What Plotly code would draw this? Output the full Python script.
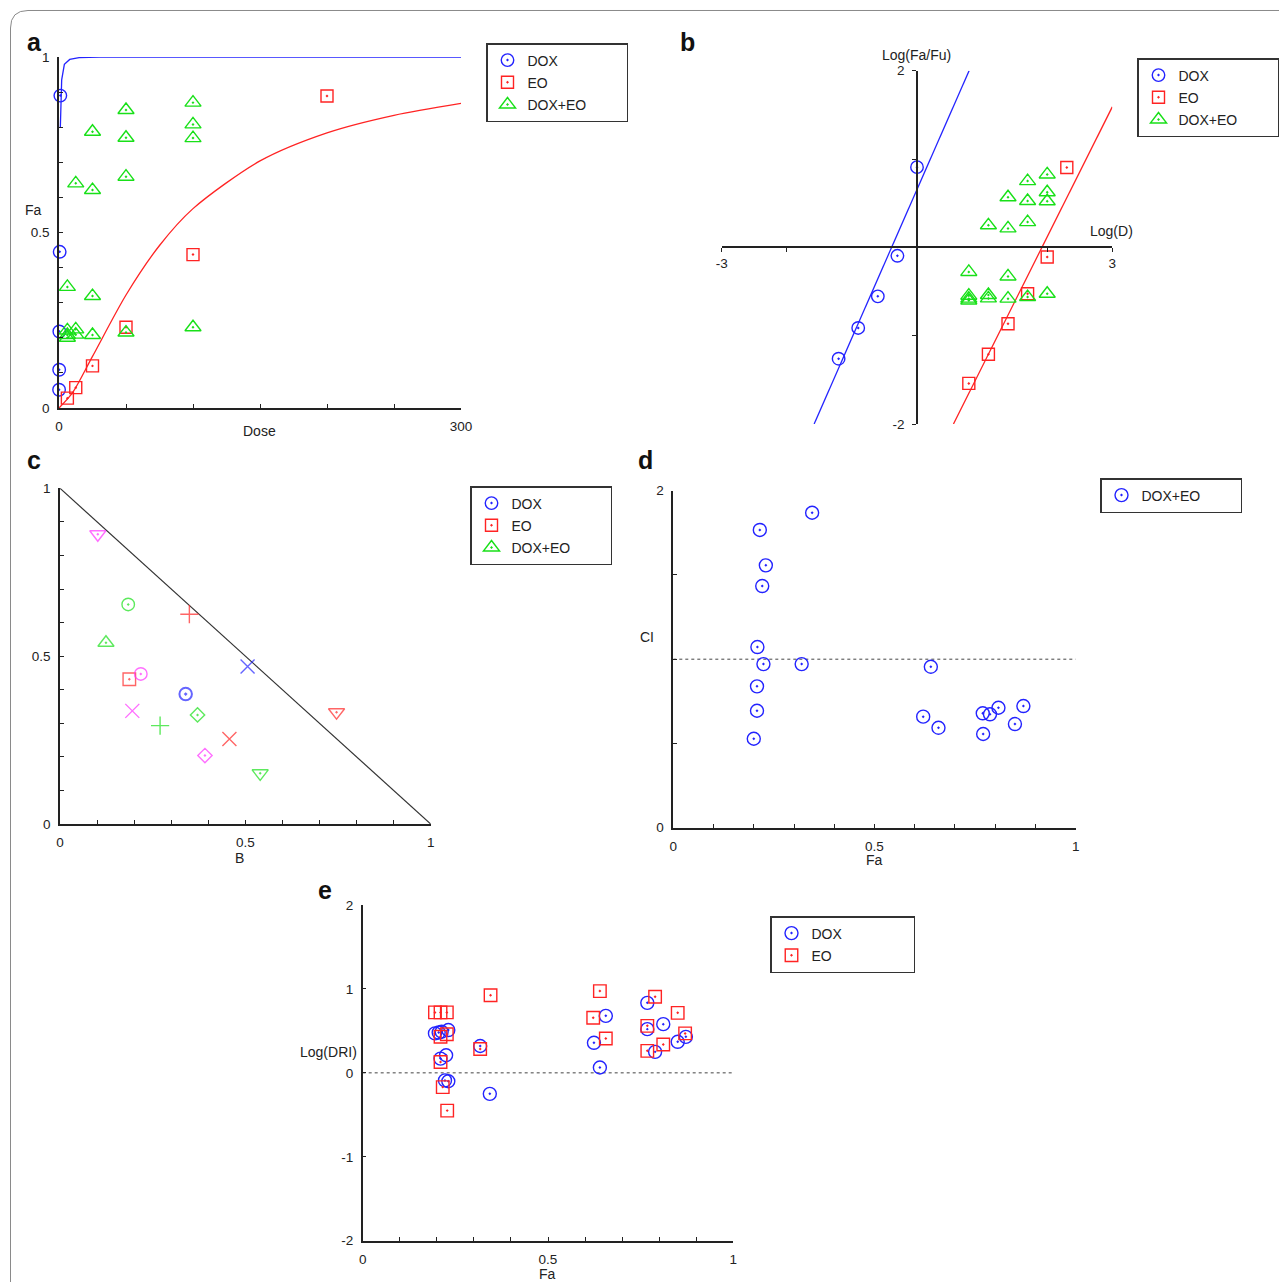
import math
import plotly.graph_objects as go

# page body has an 8 px margin; the figure is sized so that it fills the window exactly
OFF = 8
FW, FH = 1287 - OFF, 1282 - OFF
FONT = "Liberation Sans, Arial, sans-serif"

# ---------------- data ----------------
# Panel a / b : single drugs and combination (dose, fraction affected)
dox_dose = [0.0625, 0.125, 0.25, 0.5, 1.0]
dox_fa = [0.052, 0.109, 0.218, 0.445, 0.89]
eo_dose = [6.25, 12.5, 25, 50, 100, 200]
eo_fa = [0.028, 0.058, 0.12, 0.23, 0.437, 0.889]
combo_dose = [6.25, 6.25, 6.25, 6.25, 12.5, 12.5, 12.5, 25, 25, 25, 25,
              50, 50, 50, 50, 100, 100, 100, 100]
combo_fa = [0.345, 0.221, 0.208, 0.200, 0.224, 0.209, 0.640, 0.319, 0.208, 0.787, 0.621,
            0.215, 0.849, 0.770, 0.659, 0.230, 0.870, 0.808, 0.769]

# fitted dose-effect curves
dox_curve_dose = [1, 2, 4, 8, 15, 30, 300]
dox_curve_fa = [0.80, 0.935, 0.979, 0.993, 0.998, 0.9995, 1.0]
eo_curve_dose = [0, 10, 25, 50, 75, 100, 150, 200, 250, 300]
eo_curve_fa = [0, 0.043, 0.147, 0.322, 0.463, 0.568, 0.704, 0.784, 0.834, 0.868]

# median-effect lines
dox_line_logd = [-1.58, 0.80]
dox_line_logfa = [-2.0, 2.0]
eo_line_logd = [0.56, 3.0]
eo_line_logfa = [-2.0, 1.59]

# Panel c : normalized isobologram
c_b = [0.102, 0.184, 0.349, 0.124, 0.187, 0.218, 0.506, 0.339, 0.195, 0.371,
       0.270, 0.457, 0.391, 0.540, 0.746]
c_a = [0.863, 0.654, 0.625, 0.540, 0.431, 0.447, 0.469, 0.387, 0.337, 0.325,
       0.293, 0.253, 0.204, 0.151, 0.333]
c_iso_b = [0, 1]
c_iso_a = [1, 0]

# Panel d : Fa - CI
d_fa = [0.215, 0.345, 0.230, 0.221, 0.209, 0.224, 0.319, 0.208, 0.208, 0.200,
        0.640, 0.621, 0.659, 0.769, 0.787, 0.808, 0.870, 0.849, 0.770]
d_ci = [1.767, 1.869, 1.557, 1.434, 1.072, 0.971, 0.971, 0.839, 0.694, 0.528,
        0.955, 0.659, 0.593, 0.679, 0.673, 0.712, 0.722, 0.615, 0.556]

# Panel e : Fa - log(DRI)
e_dox_fa = [0.195, 0.205, 0.213, 0.231, 0.210, 0.225, 0.222, 0.231, 0.317, 0.343,
            0.768, 0.656, 0.811, 0.768, 0.624, 0.850, 0.872, 0.789, 0.640]
e_dox_logdri = [0.47, 0.48, 0.49, 0.51, 0.17, 0.21, -0.09, -0.10, 0.32, -0.25,
                0.834, 0.679, 0.580, 0.521, 0.358, 0.370, 0.429, 0.250, 0.064]
e_eo_fa = [0.195, 0.210, 0.227, 0.210, 0.227, 0.210, 0.216, 0.228, 0.317, 0.345,
           0.640, 0.789, 0.850, 0.622, 0.768, 0.656, 0.870, 0.811, 0.768]
e_eo_logdri = [0.72, 0.72, 0.72, 0.43, 0.46, 0.13, -0.17, -0.45, 0.285, 0.925,
               0.974, 0.907, 0.715, 0.656, 0.560, 0.410, 0.470, 0.338, 0.262]

# ---------------- styling ----------------
BLUE, RED, GREEN, MAG = "#2323ff", "#ff2323", "#18e018", "#ff30ff"
AX = "#222222"
log10 = math.log10


def px(p):
    return (p - OFF) / FW


def py(p):
    return 1 - (p - OFF) / FH


def axis(domain, rng, tickvals, ticktext, **kw):
    d = dict(domain=domain, range=rng, tickvals=tickvals, ticktext=ticktext,
             showline=True, linecolor=AX, linewidth=1.5, ticks="inside", ticklen=4,
             tickwidth=1.2, tickcolor=AX, showgrid=False, zeroline=False,
             tickfont=dict(size=13.5, color=AX, family=FONT), fixedrange=True,
             ticklabelstandoff=5, automargin=False)
    d.update(kw)
    return d


def mk(symbol, color, size=12.5):
    return dict(symbol=symbol, size=size, color=color, line=dict(color=color, width=1.4))


fig = go.Figure()
PAD = "\u00a0" * 9
TRI = 14

# ---------- panel a ----------
fig.add_trace(go.Scatter(x=dox_curve_dose, y=dox_curve_fa, mode="lines",
                         line=dict(color=BLUE, width=1.3), showlegend=False,
                         xaxis="x", yaxis="y", cliponaxis=False))
fig.add_trace(go.Scatter(x=eo_curve_dose, y=eo_curve_fa, mode="lines",
                         line=dict(color=RED, width=1.3, shape="spline", smoothing=0.8),
                         showlegend=False, xaxis="x", yaxis="y", cliponaxis=False))
fig.add_trace(go.Scatter(x=dox_dose, y=dox_fa, mode="markers", name="DOX",
                         marker=mk("circle-open-dot", BLUE), legend="legend",
                         legendgroup="a1", xaxis="x", yaxis="y", cliponaxis=False))
fig.add_trace(go.Scatter(x=eo_dose, y=eo_fa, mode="markers", name="EO",
                         marker=mk("square-open-dot", RED, 12), legend="legend",
                         legendgroup="a2", xaxis="x", yaxis="y", cliponaxis=False))
fig.add_trace(go.Scatter(x=combo_dose, y=combo_fa, mode="markers", name="DOX+EO" + PAD,
                         marker=mk("triangle-up-open-dot", GREEN, TRI), legend="legend",
                         legendgroup="a3", xaxis="x", yaxis="y", cliponaxis=False))

# ---------- panel b ----------
fig.add_trace(go.Scatter(x=dox_line_logd, y=dox_line_logfa, mode="lines",
                         line=dict(color=BLUE, width=1.3), showlegend=False,
                         xaxis="x2", yaxis="y2", cliponaxis=False))
fig.add_trace(go.Scatter(x=eo_line_logd, y=eo_line_logfa, mode="lines",
                         line=dict(color=RED, width=1.3), showlegend=False,
                         xaxis="x2", yaxis="y2", cliponaxis=False))
fig.add_trace(go.Scatter(x=[log10(d) for d in dox_dose],
                         y=[log10(f / (1 - f)) for f in dox_fa], mode="markers", name="DOX",
                         marker=mk("circle-open-dot", BLUE), legend="legend2",
                         legendgroup="b1", xaxis="x2", yaxis="y2", cliponaxis=False))
fig.add_trace(go.Scatter(x=[log10(d) for d in eo_dose],
                         y=[log10(f / (1 - f)) for f in eo_fa], mode="markers", name="EO",
                         marker=mk("square-open-dot", RED, 12), legend="legend2",
                         legendgroup="b2", xaxis="x2", yaxis="y2", cliponaxis=False))
fig.add_trace(go.Scatter(x=[log10(d) for d in combo_dose],
                         y=[log10(f / (1 - f)) for f in combo_fa], mode="markers",
                         name="DOX+EO" + PAD,
                         marker=mk("triangle-up-open-dot", GREEN, TRI), legend="legend2",
                         legendgroup="b3", xaxis="x2", yaxis="y2", cliponaxis=False))

# ---------- panel c ----------
c_symbols = ["triangle-down-open-dot", "circle-open-dot", "cross-thin-open",
             "triangle-up-open-dot", "square-open-dot", "circle-open-dot", "x-thin-open",
             "circle-open-dot", "x-thin-open", "diamond-open-dot", "cross-thin-open",
             "x-thin-open", "diamond-open-dot", "triangle-down-open-dot",
             "triangle-down-open-dot"]
c_colors = [MAG, GREEN, RED, GREEN, RED, MAG, BLUE, BLUE, MAG, GREEN, GREEN, RED, MAG,
            GREEN, RED]
c_sizes = [14, 12.5, 13, 14, 12.5, 12.5, 14, 12.5, 14, 11, 13, 14, 11, 14, 14]
c_widths = [1.4, 1.4, 1.4, 1.4, 1.4, 1.4, 1.4, 2.0, 1.4, 1.4, 1.4, 1.4, 1.4, 1.4, 1.4]
fig.add_trace(go.Scatter(x=c_iso_b, y=c_iso_a, mode="lines",
                         line=dict(color="#333333", width=1.2), showlegend=False,
                         xaxis="x3", yaxis="y3", cliponaxis=False))
fig.add_trace(go.Scatter(x=c_b, y=c_a, mode="markers", showlegend=False,
                         marker=dict(symbol=c_symbols, color=c_colors, size=c_sizes,
                                     line=dict(color=c_colors, width=c_widths)),
                         xaxis="x3", yaxis="y3", cliponaxis=False))
for nm, sym, col, g, sz in [("DOX", "circle-open-dot", BLUE, "c1", 12.5),
                            ("EO", "square-open-dot", RED, "c2", 12),
                            ("DOX+EO" + PAD, "triangle-up-open-dot", GREEN, "c3", TRI)]:
    fig.add_trace(go.Scatter(x=[None], y=[None], mode="markers", name=nm,
                             marker=mk(sym, col, sz), legend="legend3", legendgroup=g,
                             xaxis="x3", yaxis="y3"))

# ---------- panel d ----------
fig.add_trace(go.Scatter(x=d_fa, y=d_ci, mode="markers", name="DOX+EO" + PAD,
                         marker=mk("circle-open-dot", BLUE, 13), legend="legend4",
                         xaxis="x4", yaxis="y4", cliponaxis=False))

# ---------- panel e ----------
fig.add_trace(go.Scatter(x=e_dox_fa, y=e_dox_logdri, mode="markers",
                         name="DOX" + "\u00a0" * 17,
                         marker=mk("circle-open-dot", BLUE, 13), legend="legend5",
                         legendgroup="e1", xaxis="x5", yaxis="y5", cliponaxis=False))
fig.add_trace(go.Scatter(x=e_eo_fa, y=e_eo_logdri, mode="markers", name="EO",
                         marker=mk("square-open-dot", RED, 12.5), legend="legend5",
                         legendgroup="e2", xaxis="x5", yaxis="y5", cliponaxis=False))


# ---------------- layout ----------------
def tv(start, stop, step):
    n = int(round((stop - start) / step))
    return [round(start + i * step, 6) for i in range(n + 1)]


def fmt(v):
    return "%g" % v


def sel(vals, show):
    return [fmt(v) if v in show else "" for v in vals]


a_x = tv(0, 300, 50)
a_y = tv(0, 1, 0.1)
c_t = tv(0, 1, 0.1)
d_y = tv(0, 2, 0.5)
e_y = tv(-2, 2, 1)

layout = dict(
    template="none",
    width=FW, height=FH, margin=dict(l=0, r=0, t=0, b=0, pad=0), autosize=False,
    paper_bgcolor="white", plot_bgcolor="rgba(0,0,0,0)",
    font=dict(family=FONT, color=AX, size=13),
    xaxis=axis([px(59), px(461)], [0, 300], a_x, sel(a_x, (0, 300)), anchor="y"),
    yaxis=axis([py(408), py(57)], [0, 1], a_y, sel(a_y, (0, 0.5, 1)), anchor="x"),
    xaxis2=axis([px(721.7), px(1112.3)], [-3, 3], [-3, -2, 2, 3], ["-3", "", "", "3"],
                anchor="free", position=py(247.3), ticks="outside", ticklabelstandoff=0),
    yaxis2=axis([py(424), py(70.7)], [-2, 2], [-2, -1, 1, 2], ["-2", "", "", "2"],
                anchor="free", position=px(917), ticks="outside"),
    xaxis3=axis([px(60), px(430.7)], [0, 1], c_t, sel(c_t, (0, 0.5, 1)), anchor="y3"),
    yaxis3=axis([py(824), py(488.3)], [0, 1], c_t, sel(c_t, (0, 0.5, 1)), anchor="x3"),
    xaxis4=axis([px(673.3), px(1075.7)], [0, 1], c_t, sel(c_t, (0, 0.5, 1)), anchor="y4"),
    yaxis4=axis([py(827.7), py(490.7)], [0, 2], d_y, sel(d_y, (0, 2)), anchor="x4"),
    xaxis5=axis([px(362.7), px(733.3)], [0, 1], c_t, sel(c_t, (0, 0.5, 1)), anchor="y5"),
    yaxis5=axis([py(1240.7), py(905)], [-2, 2], e_y, [fmt(v) for v in e_y], anchor="x5"),
)


def leg(x, y):
    return dict(x=px(x), y=py(y), xanchor="left", yanchor="top", bordercolor="#333333",
                borderwidth=1.5, bgcolor="white", tracegroupgap=1,
                font=dict(size=14, color=AX, family=FONT), itemclick=False,
                itemdoubleclick=False)


layout["legend"] = leg(486, 43)
layout["legend2"] = leg(1137, 58)
layout["legend3"] = leg(470, 486)
layout["legend4"] = leg(1100, 478)
layout["legend5"] = leg(770, 916)

ann = []
for t, x, y in [("a", 34, 42), ("b", 687, 42), ("c", 34, 460), ("d", 645, 460),
                ("e", 325, 890)]:
    ann.append(dict(text="<b>%s</b>" % t, x=px(x), y=py(y), xref="paper", yref="paper",
                    xanchor="center", yanchor="middle", showarrow=False,
                    font=dict(size=25, color="#111", family=FONT)))
for t, x, y in [("Fa", 33, 210), ("Dose", 259, 431), ("Log(Fa/Fu)", 916, 55),
                ("Log(D)", 1111, 231), ("B", 240, 858), ("CI", 647, 637),
                ("Fa", 874, 860), ("Log(DRI)", 328, 1052), ("Fa", 547, 1274)]:
    ann.append(dict(text=t, x=px(x), y=py(y), xref="paper", yref="paper",
                    xanchor="center", yanchor="middle", showarrow=False,
                    font=dict(size=14, color=AX, family=FONT)))
layout["annotations"] = ann

layout["shapes"] = [
    dict(type="line", xref="x4", yref="y4", x0=0, x1=1, y0=1, y1=1, layer="below",
         line=dict(color="#444", width=1, dash="dot")),
    dict(type="line", xref="x5", yref="y5", x0=0, x1=1, y0=0, y1=0, layer="below",
         line=dict(color="#444", width=1, dash="dot")),
    dict(type="path", xref="paper", yref="paper", layer="below",
         path="M %f,%f L %f,%f Q %f,%f %f,%f L %f,%f" % (
             px(10.5), py(1300), px(10.5), py(28), px(10.5), py(10.5), px(28), py(10.5),
             px(1300), py(10.5)),
         line=dict(color="#8a8a8a", width=1)),
]

fig.update_layout(**layout)
fig.write_html("out.html")
